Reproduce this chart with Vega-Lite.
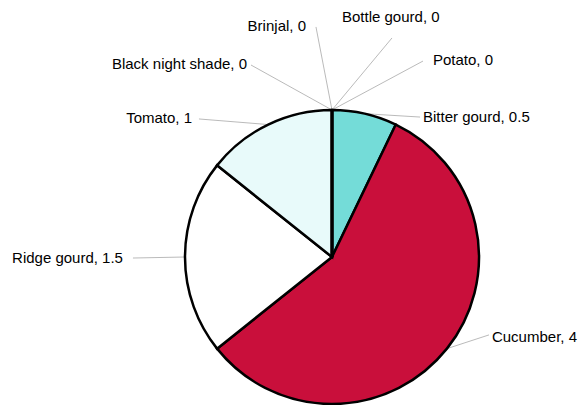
{
  "$schema": "https://vega.github.io/schema/vega-lite/v6.json",
  "width": 582,
  "height": 405,
  "padding": 0,
  "autosize": {"type": "none"},
  "background": "white",
  "config": {"view": {"stroke": null}},
  "data": {
    "values": [
      {"crop": "Bitter gourd", "value": 0.5, "order": 1, "tx": 0.619, "ty": 0.952, "lx": 0.599, "ly": 0.952},
      {"crop": "Cucumber", "value": 4, "order": 2, "tx": 1.088, "ty": -0.544, "lx": 1.068, "ly": -0.530},
      {"crop": "Ridge gourd", "value": 1.5, "order": 3, "tx": -1.422, "ty": -0.007, "lx": -1.354, "ly": -0.007},
      {"crop": "Tomato", "value": 1, "order": 4, "tx": -0.952, "ty": 0.946, "lx": -0.905, "ly": 0.939},
      {"crop": "Black night shade", "value": 0, "order": 5, "tx": -0.578, "ty": 1.313, "lx": -0.551, "ly": 1.306},
      {"crop": "Brinjal", "value": 0, "order": 6, "tx": -0.177, "ty": 1.571, "lx": -0.109, "ly": 1.565},
      {"crop": "Bottle gourd", "value": 0, "order": 7, "tx": 0.068, "ty": 1.633, "lx": 0.408, "ly": 1.490},
      {"crop": "Potato", "value": 0, "order": 8, "tx": 0.687, "ty": 1.340, "lx": 0.619, "ly": 1.333}
    ]
  },
  "transform": [
    {"calculate": "datum.crop + ', ' + datum.value", "as": "label"}
  ],
  "layer": [
    {
      "transform": [
        {"window": [{"op": "sum", "field": "value", "as": "cum"}], "sort": [{"field": "order"}], "frame": [null, 0]},
        {"joinaggregate": [{"op": "sum", "field": "value", "as": "total"}]},
        {"calculate": "2 * PI * (datum.cum - datum.value / 2) / datum.total", "as": "mid"},
        {"calculate": "sin(datum.mid)", "as": "ex"},
        {"calculate": "cos(datum.mid)", "as": "ey"}
      ],
      "mark": {"type": "rule", "color": "#a8a8a8", "strokeWidth": 0.8},
      "encoding": {
        "x": {"field": "ex", "type": "quantitative", "scale": {"domain": [-2.2585, 1.7007], "nice": false, "zero": false}, "axis": null},
        "y": {"field": "ey", "type": "quantitative", "scale": {"domain": [-1.0068, 1.7483], "nice": false, "zero": false}, "axis": null},
        "x2": {"field": "lx"},
        "y2": {"field": "ly"}
      }
    },
    {
      "mark": {"type": "arc", "radius": 147, "stroke": "#000000", "strokeWidth": 2.5},
      "encoding": {
        "x": {"datum": 0, "type": "quantitative"},
        "y": {"datum": 0, "type": "quantitative"},
        "theta": {"field": "value", "type": "quantitative", "stack": true},
        "order": {"field": "order", "type": "quantitative"},
        "color": {
          "field": "crop",
          "type": "nominal",
          "legend": null,
          "scale": {
            "domain": ["Bitter gourd", "Cucumber", "Ridge gourd", "Tomato", "Black night shade", "Brinjal", "Bottle gourd", "Potato"],
            "range": ["#74dcd8", "#c90f3b", "#ffffff", "#e8fafa", "#ffffff", "#ffffff", "#ffffff", "#ffffff"]
          }
        }
      }
    },
    {
      "transform": [{"filter": "datum.tx < 0"}],
      "mark": {"type": "text", "align": "right", "baseline": "middle", "font": "Liberation Sans", "fontSize": 15, "color": "#000000"},
      "encoding": {
        "x": {"field": "tx", "type": "quantitative"},
        "y": {"field": "ty", "type": "quantitative"},
        "text": {"field": "label"}
      }
    },
    {
      "transform": [{"filter": "datum.tx >= 0"}],
      "mark": {"type": "text", "align": "left", "baseline": "middle", "font": "Liberation Sans", "fontSize": 15, "color": "#000000"},
      "encoding": {
        "x": {"field": "tx", "type": "quantitative"},
        "y": {"field": "ty", "type": "quantitative"},
        "text": {"field": "label"}
      }
    }
  ]
}
